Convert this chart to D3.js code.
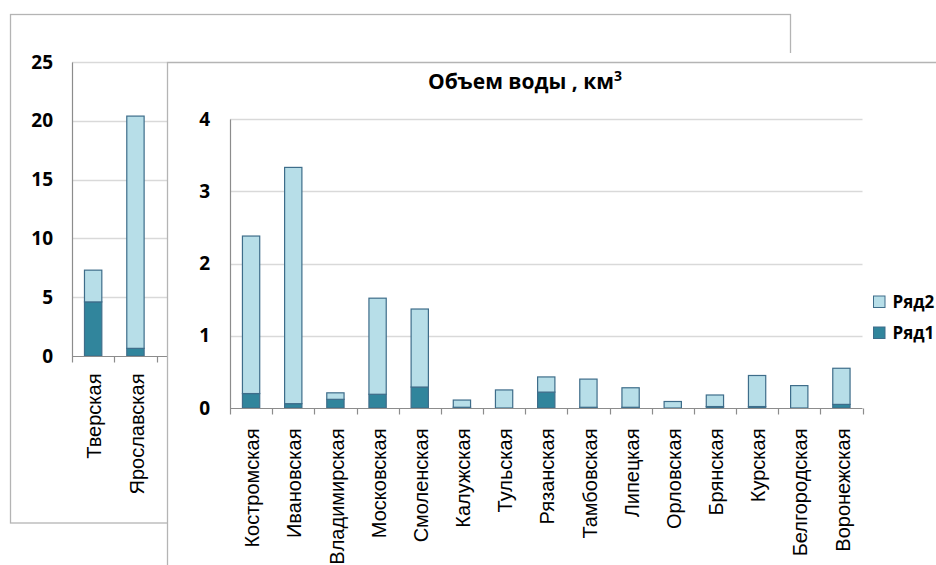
<!DOCTYPE html>
<html>
<head>
<meta charset="utf-8">
<script src="https://cdn.jsdelivr.net/npm/d3@7"></script>
<style>
  html, body { margin: 0; padding: 0; background: #fff; }
  svg { display: block; }
</style>
</head>
<body>
<svg id="chart" width="936" height="565"></svg>
<script>
// Water volume by region, two stacked-bar panels (large and small regions)
const seriesNames = ["Ряд1", "Ряд2"];

const bigRegions = ["Тверская", "Ярославская"];
const bigRow1 = [4.6, 0.65];
const bigRow2 = [2.7, 19.75];
const bigTicks = [0, 5, 10, 15, 20, 25];

const regions = ["Костромская", "Ивановская", "Владимирская", "Московская", "Смоленская",
  "Калужская", "Тульская", "Рязанская", "Тамбовская", "Липецкая", "Орловская",
  "Брянская", "Курская", "Белгородская", "Воронежская"];
const row1 = [0.20, 0.06, 0.12, 0.19, 0.29, 0.01, 0, 0.22, 0.01, 0.01, 0, 0.02, 0.02, 0, 0.05];
const row2 = [2.18, 3.27, 0.09, 1.33, 1.08, 0.10, 0.25, 0.21, 0.39, 0.27, 0.09, 0.16, 0.43, 0.31, 0.50];
const ticks = [0, 1, 2, 3, 4];

const titleText = "Объем воды , км";

const colors = { "Ряд1": "#31859c", "Ряд2": "#b7dee8" };
const barStroke = "#3e6d8a";
const gridColor = "#d9d9d9";
const axisColor = "#8c8c8c";
const frameColor = "#b4b4b4";
const boldFont = "'Open Sans', 'Noto Sans', sans-serif";
const labelFont = "'Liberation Sans', Arial, sans-serif";

const svg = d3.select("#chart");

function stackRows(cats, r1, r2) {
  const rows = cats.map((c, i) => ({ cat: c, "Ряд1": r1[i], "Ряд2": r2[i] }));
  return d3.stack().keys(seriesNames)(rows);
}

// Draw one stacked-bar panel into group g
function drawPanel(g, cats, r1, r2, yDomain, yTickVals, box, opts) {
  const x = d3.scaleBand().domain(cats).range([box.x0, box.x1]).paddingInner(0).paddingOuter(0);
  const y = d3.scaleLinear().domain(yDomain).range([box.y0, box.y1]);
  const barW = x.bandwidth() * 0.41;

  // gridlines
  g.append("g").selectAll("line").data(yTickVals.filter(v => v !== 0)).join("line")
    .attr("x1", box.x0).attr("x2", opts.gridEnd)
    .attr("y1", d => Math.round(y(d)) + 0.5).attr("y2", d => Math.round(y(d)) + 0.5)
    .attr("stroke", gridColor).attr("stroke-width", 1.3);

  // bars
  const stacked = stackRows(cats, r1, r2);
  g.append("g").selectAll("g").data(stacked).join("g")
    .attr("fill", d => colors[d.key])
    .selectAll("rect").data(d => d.filter(p => p[1] - p[0] > 0)).join("rect")
    .attr("x", d => x(d.data.cat) + (x.bandwidth() - barW) / 2)
    .attr("width", barW)
    .attr("y", d => y(d[1]))
    .attr("height", d => y(d[0]) - y(d[1]))
    .attr("stroke", barStroke).attr("stroke-width", 1.2);

  // y axis (labels only, with a plain axis line)
  const yAxis = d3.axisLeft(y).tickValues(yTickVals).tickSize(0).tickPadding(opts.yPad).tickFormat(d3.format("d"));
  const ya = g.append("g").attr("transform", `translate(${box.x0},0)`).call(yAxis);
  ya.select(".domain").attr("stroke", axisColor).attr("stroke-width", 1.2);
  ya.selectAll("text").attr("font-family", boldFont).attr("font-weight", 700)
    .attr("font-size", 19).attr("fill", "#000");

  // x axis with outside ticks at band edges
  const y0 = Math.round(y(0)) + 0.5;
  g.append("line").attr("x1", box.x0).attr("x2", opts.gridEnd).attr("y1", y0).attr("y2", y0)
    .attr("stroke", axisColor).attr("stroke-width", 1.2);
  const edges = cats.map(c => x(c)).concat([box.x1]);
  g.append("g").selectAll("line").data(edges).join("line")
    .attr("x1", d => Math.round(d) + 0.5).attr("x2", d => Math.round(d) + 0.5)
    .attr("y1", y0).attr("y2", y0 + 6)
    .attr("stroke", axisColor).attr("stroke-width", 1.2);

  // category labels, rotated
  g.append("g").selectAll("text").data(cats).join("text")
    .attr("transform", d => `translate(${x(d) + x.bandwidth() / 2 + 1},${y0 + opts.labelGap}) rotate(-90)`)
    .attr("text-anchor", "end").attr("dy", "0.36em")
    .attr("font-family", labelFont).attr("font-size", 20).attr("fill", "#000")
    .text(d => d);
}

// ---- back panel (large regions)
svg.append("rect").attr("x", 10.5).attr("y", 14.5).attr("width", 780).attr("height", 508.5)
  .attr("fill", "#fff").attr("stroke", frameColor).attr("stroke-width", 1.3);
const back = svg.append("g");
drawPanel(back, bigRegions, bigRow1, bigRow2, [0, 25], bigTicks,
  { x0: 72, x1: 156.6, y0: 356, y1: 62 }, { gridEnd: 175, yPad: 19, labelGap: 17 });

// ---- front panel (other regions), covers the back panel
svg.append("rect").attr("x", 167).attr("y", 53).attr("width", 769).attr("height", 512).attr("fill", "#fff");
svg.append("path").attr("d", "M167.5,565 V62.5 H936")
  .attr("fill", "none").attr("stroke", frameColor).attr("stroke-width", 1.3);

const front = svg.append("g");
drawPanel(front, regions, row1, row2, [0, 4], ticks,
  { x0: 230, x1: 862.5, y0: 408, y1: 119 }, { gridEnd: 862.5, yPad: 20, labelGap: 20 });

// title
const title = svg.append("text").attr("x", 525).attr("y", 89).attr("text-anchor", "middle")
  .attr("font-family", boldFont).attr("font-weight", 700).attr("font-size", 21).attr("fill", "#000")
  .text(titleText);
title.append("tspan").attr("dy", -8).attr("font-size", 14).text("3");

// legend (Ряд2 above Ряд1)
const legendItems = seriesNames.slice().reverse();
const lg = svg.append("g").selectAll("g").data(legendItems).join("g")
  .attr("transform", (d, i) => `translate(873.5,${296 + i * 31})`);
lg.append("rect").attr("width", 11.5).attr("height", 11.5)
  .attr("fill", d => colors[d]).attr("stroke", barStroke).attr("stroke-width", 1);
lg.append("text").attr("x", 19).attr("y", 6).attr("dy", "0.36em")
  .attr("font-family", boldFont).attr("font-weight", 700).attr("font-size", 17).attr("fill", "#000")
  .text(d => d);
</script>
</body>
</html>
